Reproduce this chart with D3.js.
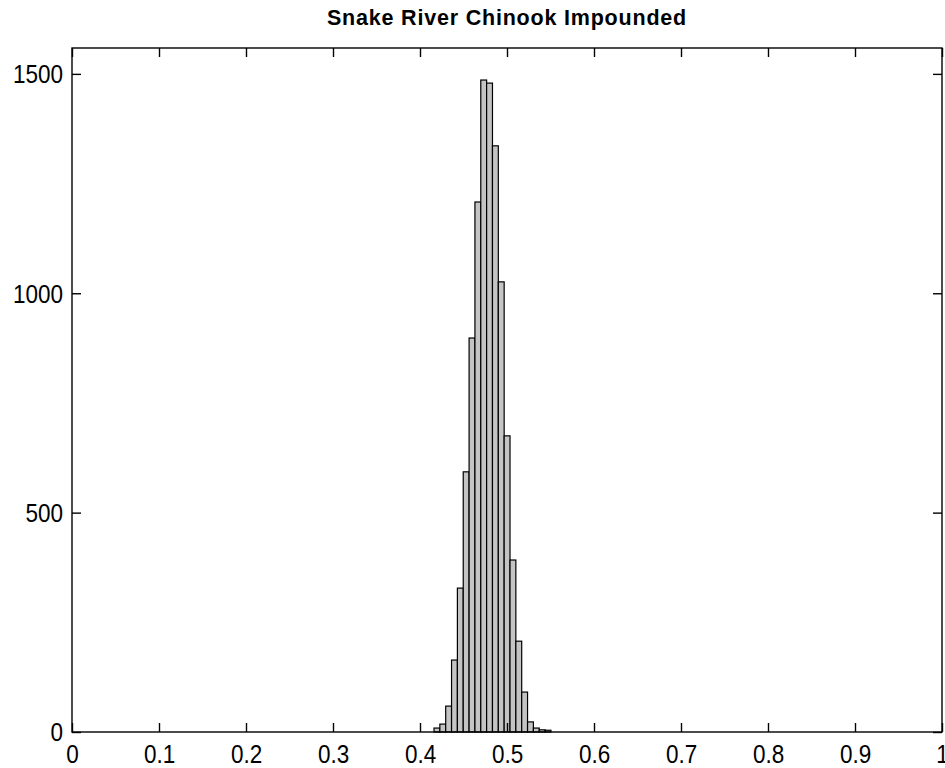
<!DOCTYPE html>
<html>
<head>
<meta charset="utf-8">
<script src="https://cdn.jsdelivr.net/npm/d3@7"></script>
<style>
  body { margin: 0; background: #fff; }
  .tick-label { font-family: "Liberation Sans", Arial, sans-serif; font-size: 25px; fill: #000; }
  .title { font-family: "Liberation Sans", Arial, sans-serif; font-size: 21.5px; font-weight: bold; letter-spacing: 0.8px; }
</style>
</head>
<body>
<div id="vis"></div>
<script>
const margin = {top: 48, right: 3, bottom: 36, left: 72};
const width = 945 - margin.left - margin.right;
const height = 768 - margin.top - margin.bottom;

// histogram bins (left edge of first bin and bin width, in x units)
const binStart = 0.4161;
const binWidth = 0.00672;
const counts = [9, 18, 59, 164, 328, 593, 898, 1208, 1486, 1479,
                1336, 1026, 675, 392, 207, 91, 23, 9, 5, 4];

const xTicks = [0, 0.1, 0.2, 0.3, 0.4, 0.5, 0.6, 0.7, 0.8, 0.9, 1];
const yTicks = [0, 500, 1000, 1500];
const title = 'Snake River Chinook Impounded';

const svg = d3.select('#vis')
    .append('svg')
    .attr('width', 945)
    .attr('height', 768)
    .append('g')
    .attr('transform', `translate(${margin.left},${margin.top})`);

const xScale = d3.scaleLinear()
    .domain([0, 1])
    .range([0, width]);

const yScale = d3.scaleLinear()
    .domain([0, 1559])
    .range([height, 0]);

// bars
svg.selectAll('rect.bar')
    .data(counts)
    .enter()
    .append('rect')
    .attr('class', 'bar')
    .attr('x', (d, i) => xScale(binStart + i * binWidth))
    .attr('y', d => yScale(d))
    .attr('width', xScale(binWidth) - xScale(0))
    .attr('height', d => height - yScale(d))
    .style('fill', '#c4c4c4')
    .style('stroke', '#000')
    .style('stroke-width', 1.2);

const fmt = d3.format('~g');

// bottom axis with labels, ticks pointing in
const xAxis = d3.axisBottom(xScale)
    .tickValues(xTicks)
    .tickFormat(fmt)
    .tickSizeInner(-9)
    .tickSizeOuter(0);

const gx = svg.append('g')
   .attr('transform', `translate(0,${height})`)
   .call(xAxis);

const yAxis = d3.axisLeft(yScale)
    .tickValues(yTicks)
    .tickFormat(fmt)
    .tickSizeInner(-9)
    .tickSizeOuter(0);

const gy = svg.append('g')
    .call(yAxis);

// top and right: ticks only
svg.append('g')
    .call(d3.axisTop(xScale).tickValues(xTicks).tickFormat('').tickSizeInner(-9).tickSizeOuter(0));

svg.append('g')
    .attr('transform', `translate(${width},0)`)
    .call(d3.axisRight(yScale).tickValues(yTicks).tickFormat('').tickSizeInner(-9).tickSizeOuter(0));

svg.selectAll('.domain').remove();
svg.selectAll('.tick line').style('stroke', '#000').style('stroke-width', 1.4);
svg.selectAll('.tick text').attr('class', 'tick-label').attr('font-size', null).attr('font-family', null);

// narrow the digits a little, like the original bitmap font
gx.selectAll('.tick text')
    .attr('y', 31)
    .attr('dy', 0)
    .attr('transform', 'scale(0.9,1)');
gy.selectAll('.tick text')
    .attr('x', -10)
    .attr('dy', '0.35em')
    .attr('transform', 'scale(0.9,1)');

// box
svg.append('rect')
    .attr('x', 0)
    .attr('y', 0)
    .attr('width', width)
    .attr('height', height)
    .style('fill', 'none')
    .style('stroke', '#000')
    .style('stroke-width', 1.4);

svg.append('text')
    .attr('class', 'title')
    .attr('x', width / 2)
    .attr('y', -23)
    .style('text-anchor', 'middle')
    .text(title);
</script>
</body>
</html>
